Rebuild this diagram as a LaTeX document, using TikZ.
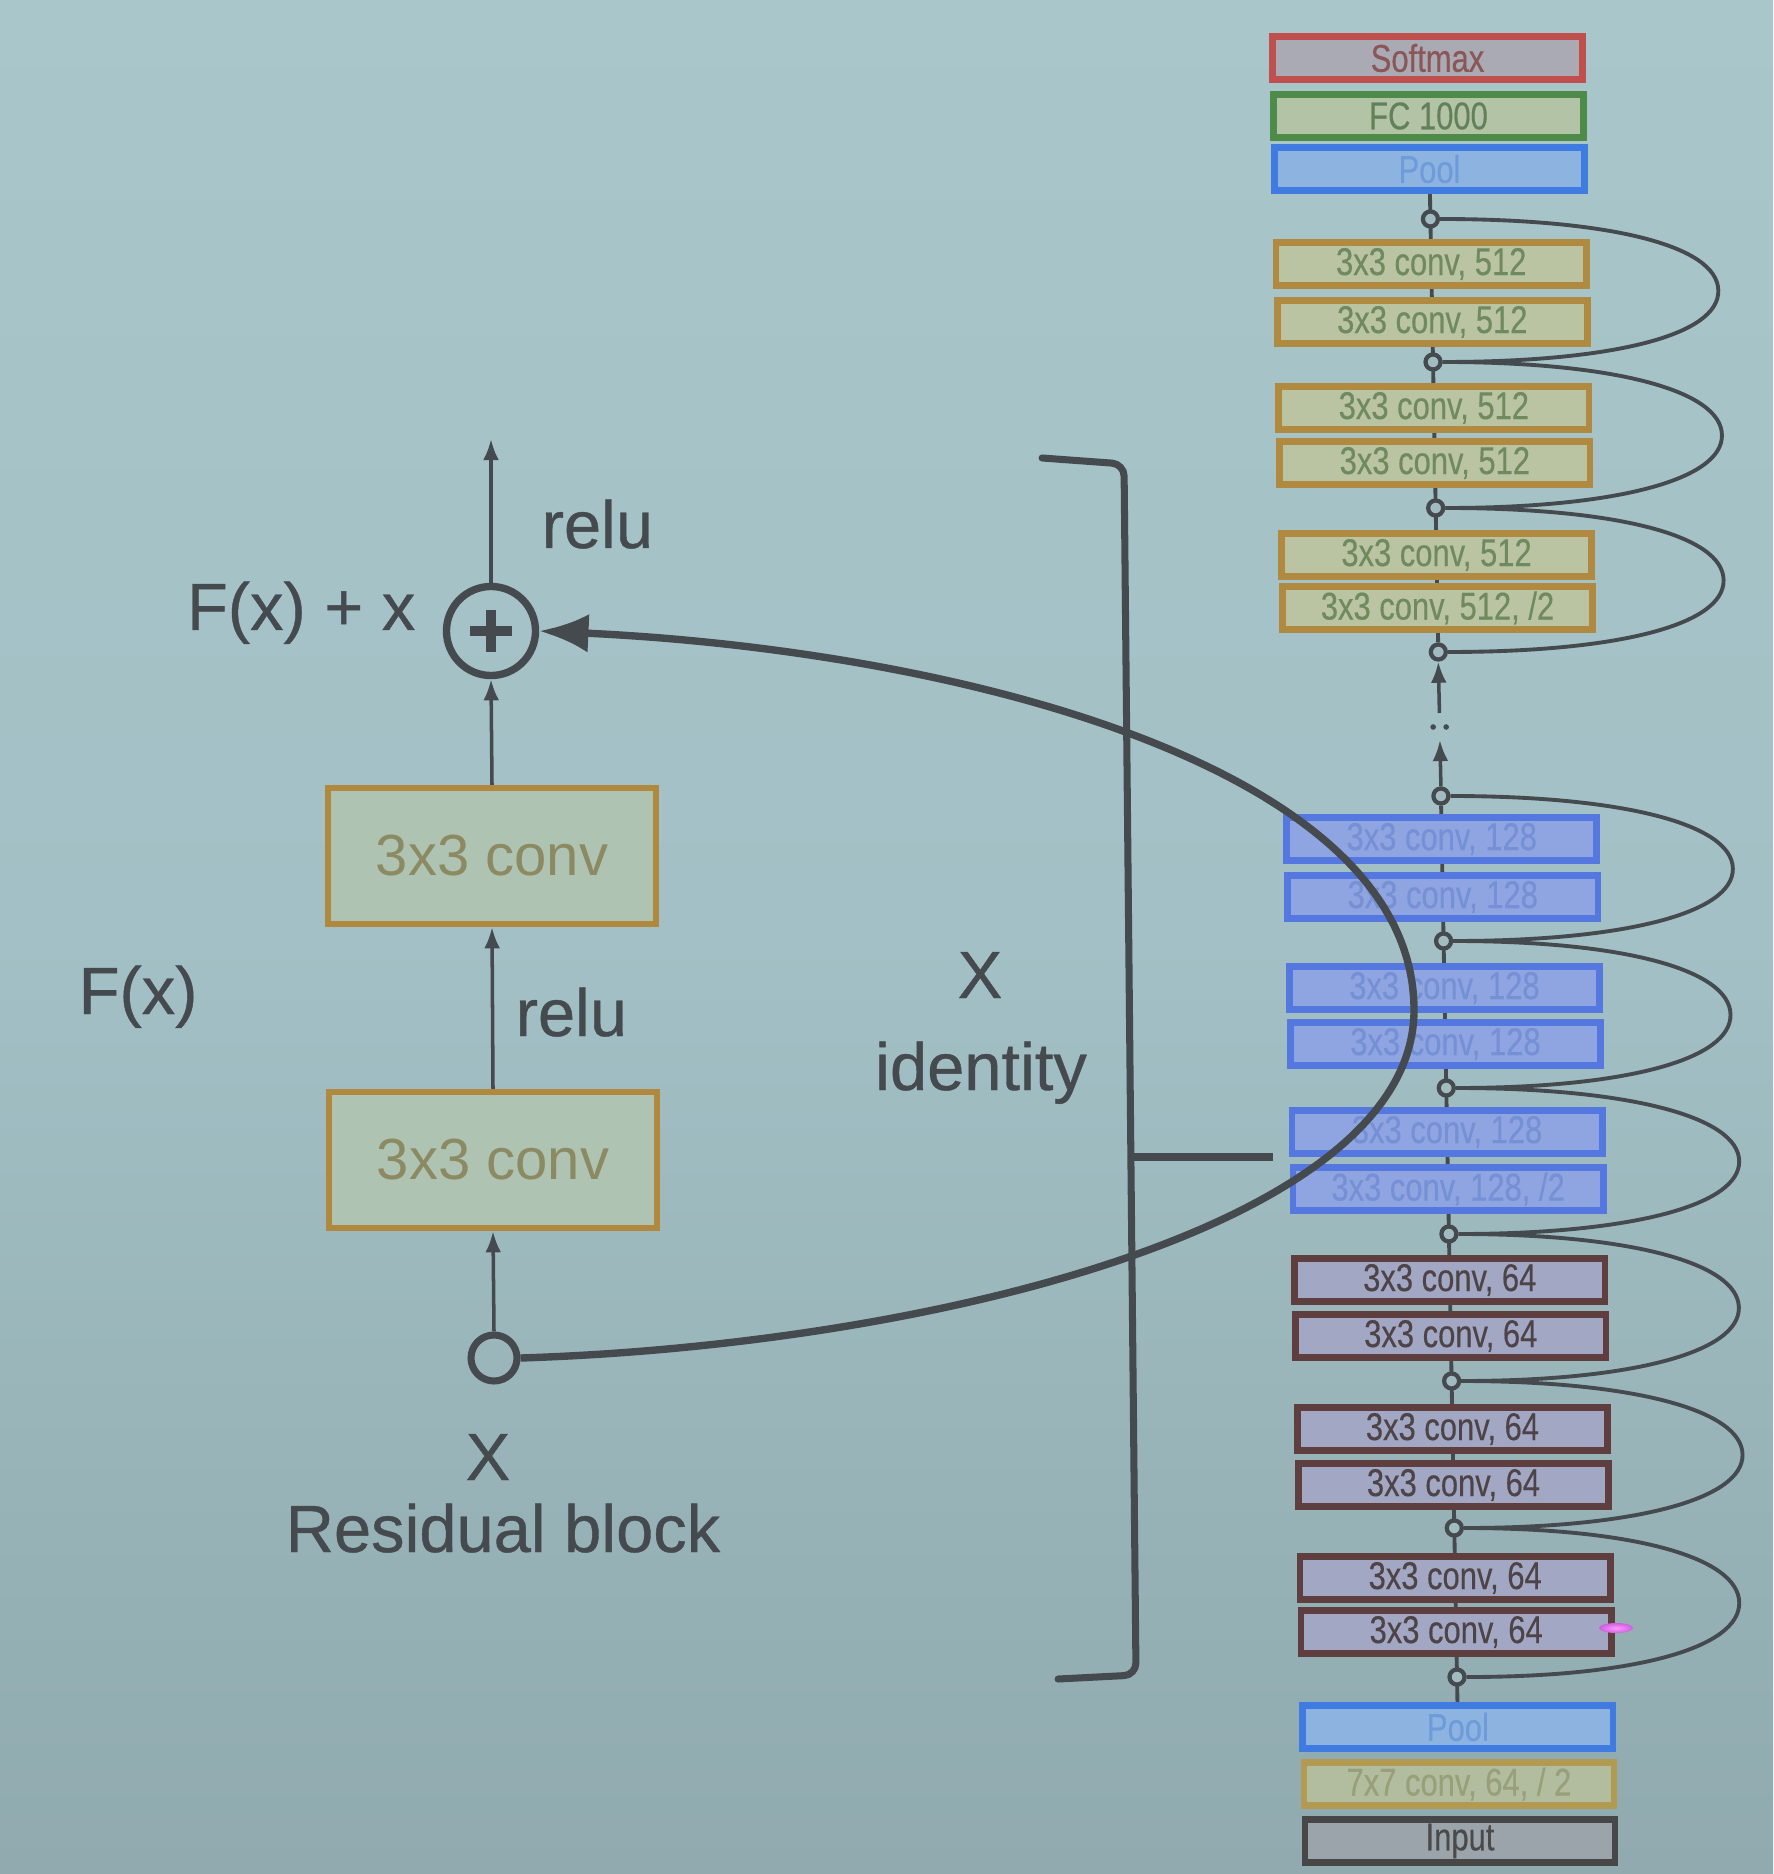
\documentclass[tikz,border=0pt]{standalone}
\usepackage{fontspec}
\setmainfont{Liberation Sans}
\newfontfamily\narrowfont[FakeStretch=0.8,FakeBold=0.4]{Liberation Sans}
\newfontfamily\labfont[FakeBold=0.6]{Liberation Sans}
\usetikzlibrary{arrows.meta}
\pgfdeclarelayer{back}
\pgfdeclarelayer{spine}
\pgfsetlayers{back,spine,main}
\definecolor{ink}{HTML}{454A4F}
\definecolor{bgtop}{HTML}{A9C6CA}
\definecolor{bgmid}{HTML}{A2C0C5}
\definecolor{bgbot}{HTML}{90AAAF}
\definecolor{jfill}{HTML}{A0BCC0}
\definecolor{lbord}{HTML}{B0883E}
\definecolor{lfill}{HTML}{AEC3B2}
\definecolor{ltext}{HTML}{8C8A62}
\definecolor{smD}{HTML}{C0504D}\definecolor{smF}{HTML}{A9AAB3}\definecolor{smT}{HTML}{8B5656}
\definecolor{fcD}{HTML}{4E8A48}\definecolor{fcF}{HTML}{B3C4A6}\definecolor{fcT}{HTML}{62805A}
\definecolor{plD}{HTML}{3F7BE0}\definecolor{plF}{HTML}{8DB4E0}\definecolor{plT}{HTML}{6E9CDB}
\definecolor{fvD}{HTML}{B08A40}\definecolor{fvF}{HTML}{BAC4A2}\definecolor{fvT}{HTML}{6F8A5E}
\definecolor{otD}{HTML}{5577E0}\definecolor{otF}{HTML}{8FA5E2}\definecolor{otT}{HTML}{7590D4}
\definecolor{sfD}{HTML}{5E3E3E}\definecolor{sfF}{HTML}{A2A8C4}\definecolor{sfT}{HTML}{4E4448}
\definecolor{svD}{HTML}{B39A52}\definecolor{svF}{HTML}{B2BC9E}\definecolor{svT}{HTML}{98A07A}
\definecolor{inD}{HTML}{474747}\definecolor{inF}{HTML}{9BA4AA}\definecolor{inT}{HTML}{4A4A4A}
\begin{document}
\begin{tikzpicture}[x=0.01cm,y=-0.01cm,
  lbl/.style={text=ink,font=\labfont\fontsize{19}{22}\selectfont,inner sep=0},
  convL/.style={draw=lbord,fill=lfill,line width=1.8pt,minimum width=3.28cm,minimum height=1.36cm,text=ltext,font=\fontsize{16.5}{20}\selectfont},
  rbox/.style={line width=1.9pt,minimum width=3.1cm,minimum height=0.43cm,inner sep=0,font=\narrowfont\fontsize{11}{11}\selectfont},
  smx/.style={rbox,draw=smD,fill=smF,text=smT},
  fcx/.style={rbox,draw=fcD,fill=fcF,text=fcT},
  plx/.style={rbox,draw=plD,fill=plF,text=plT},
  fvx/.style={rbox,draw=fvD,fill=fvF,text=fvT},
  otx/.style={rbox,draw=otD,fill=otF,text=otT},
  sfx/.style={rbox,draw=sfD,fill=sfF,text=sfT},
  svx/.style={rbox,draw=svD,fill=svF,text=svT},
  inx/.style={rbox,draw=inD,fill=inF,text=inT},
  jn/.style={circle,draw=ink,fill=jfill,line width=1.2pt,minimum size=0.15cm,inner sep=0},
  thinarrow/.style={draw=ink,line width=1pt,-{Latex[length=6pt,width=4.5pt]}},
  skiparc/.style={draw=ink,line width=1.1pt},
  heavy/.style={draw=ink,line width=2pt}]
\useasboundingbox (0,0) rectangle (1773,1874);
\begin{pgfonlayer}{back}
\shade[top color=bgtop,bottom color=bgbot,middle color=bgmid] (0,0) rectangle (1773,1874);
\end{pgfonlayer}

% ---------- residual block (left) ----------
\node[circle,draw=ink,line width=2.1pt,minimum size=0.89cm,inner sep=0] (plus) at (491,631) {};
\draw[ink,line width=3pt] (470,631) -- (512,631) (491,610) -- (491,652);
\coordinate (outtop) at (491,439);
\node[convL] (convB) at (492,856) {3x3 conv};
\node[convL] (convA) at (493,1160) {3x3 conv};
\node[circle,draw=ink,line width=2pt,minimum size=0.46cm,inner sep=0] (xin) at (494,1358) {};
\draw[thinarrow] (plus.north) -- (outtop);
\draw[thinarrow] (convB.north) -- (plus.south);
\draw[thinarrow] (convA.north) -- (convB.south);
\draw[thinarrow] (xin.north) -- (convA.south);

\node[lbl,anchor=base west] (relu1) at (541,548) {relu};
\node[lbl,anchor=base east] (fxx) at (416,630) {F(x) + x};
\node[lbl,anchor=base west] (relu2) at (515,1036) {relu};
\node[lbl,anchor=base west] (fx) at (78,1014) {F(x)};
\node[lbl,anchor=base] (xlab) at (488,1480) {X};
\node[lbl,anchor=base] (resb) at (503,1552) {Residual block};
\node[lbl,anchor=base] (xmid) at (980,998) {X};
\node[lbl,anchor=base] (ident) at (981,1090) {identity};

% ---------- bracket ----------
\coordinate (bA) at (1042,458);
\coordinate (bB) at (1124,464);
\coordinate (bC) at (1136,1675);
\coordinate (bD) at (1058,1679);
\coordinate (bM) at (1131,1157);
\coordinate (bE) at (1273,1157);
\draw[heavy,rounded corners=0.12cm,line cap=round] (bA) -- (bB) -- (bC) -- (bD);
\draw[heavy] (bM) -- (bE);

% ---------- ResNet column (right) ----------
\begin{scope}[xslant=-0.01823]
\def\C{1426.4}
\node[smx] (soft) at (\C,58) {Softmax};
\node[fcx] (fc) at (\C,116) {FC 1000};
\node[plx] (pooltop) at (\C,169) {Pool};
\node[jn] (j1) at (\C,219) {};
\node[fvx] (a1) at (\C,264) {3x3 conv, 512};
\node[fvx] (a2) at (\C,322) {3x3 conv, 512};
\node[jn] (j2) at (\C,362) {};
\node[fvx] (a3) at (\C,408) {3x3 conv, 512};
\node[fvx] (a4) at (\C,463) {3x3 conv, 512};
\node[jn] (j3) at (\C,508) {};
\node[fvx] (a5) at (\C,555) {3x3 conv, 512};
\node[fvx] (a6) at (\C,608) {3x3 conv, 512, /2};
\node[jn] (j4) at (\C,652) {};
\coordinate (t1) at (\C,713);
\coordinate (t2) at (\C,740);
\fill[ink] (\C-6.5,727) circle (0.028cm) (\C+6.5,727) circle (0.028cm);
\node[jn] (j5) at (\C,796) {};
\node[otx] (b1) at (\C,839) {3x3 conv, 128};
\node[otx] (b2) at (\C,897) {3x3 conv, 128};
\node[jn] (j6) at (\C,941) {};
\node[otx] (b3) at (\C,988) {3x3 conv, 128};
\node[otx] (b4) at (\C,1044) {3x3 conv, 128};
\node[jn] (j7) at (\C,1088) {};
\node[otx] (b5) at (\C,1132) {3x3 conv, 128};
\node[otx] (b6) at (\C,1189) {3x3 conv, 128, /2};
\node[jn] (j8) at (\C,1234) {};
\node[sfx] (d1) at (\C,1280) {3x3 conv, 64};
\node[sfx] (d2) at (\C,1336) {3x3 conv, 64};
\node[jn] (j9) at (\C,1381) {};
\node[sfx] (d3) at (\C,1429) {3x3 conv, 64};
\node[sfx] (d4) at (\C,1485) {3x3 conv, 64};
\node[jn] (j10) at (\C,1528) {};
\node[sfx] (d5) at (\C,1578) {3x3 conv, 64};
\node[sfx] (d6) at (\C,1632) {3x3 conv, 64};
\node[jn] (j11) at (\C,1677) {};
\node[plx] (poolbot) at (\C,1727) {Pool};
\node[svx] (c7) at (\C,1784) {7x7 conv, 64, / 2};
\node[inx] (inp) at (\C,1841) {Input};

\begin{pgfonlayer}{spine}
\draw[ink,line width=1.1pt] (pooltop) -- (j4);
\draw[ink,line width=1.1pt] (j5) -- (poolbot);
\end{pgfonlayer}
\draw[thinarrow] (t1) -- (j4.south);
\draw[thinarrow] (j5.north) -- (t2);

\draw[skiparc] (j1.east) .. controls +(170,0) and +(0,-45) .. (1713,290.5) .. controls +(0,45) and +(170,0) .. (j2.east);
\draw[skiparc] (j2.east) .. controls +(170,0) and +(0,-45) .. (1714,435) .. controls +(0,45) and +(170,0) .. (j3.east);
\draw[skiparc] (j3.east) .. controls +(170,0) and +(0,-45) .. (1713,580) .. controls +(0,45) and +(170,0) .. (j4.east);
\draw[skiparc] (j5.east) .. controls +(170,0) and +(0,-45) .. (1717,868.5) .. controls +(0,45) and +(170,0) .. (j6.east);
\draw[skiparc] (j6.east) .. controls +(170,0) and +(0,-45) .. (1712,1014.5) .. controls +(0,45) and +(170,0) .. (j7.east);
\draw[skiparc] (j7.east) .. controls +(170,0) and +(0,-45) .. (1718,1161) .. controls +(0,45) and +(170,0) .. (j8.east);
\draw[skiparc] (j8.east) .. controls +(170,0) and +(0,-45) .. (1715,1307.5) .. controls +(0,45) and +(170,0) .. (j9.east);
\draw[skiparc] (j9.east) .. controls +(170,0) and +(0,-45) .. (1716,1454.5) .. controls +(0,45) and +(170,0) .. (j10.east);
\draw[skiparc] (j10.east) .. controls +(170,0) and +(0,-45) .. (1710,1602.5) .. controls +(0,45) and +(170,0) .. (j11.east);
\end{scope}

% ---------- identity shortcut curve ----------
\draw[heavy,line width=2.1pt,-{Latex[length=14pt,width=11pt]}] (xin.east) .. controls (930,1345) and (1414,1225) .. (1414,1010) .. controls (1414,765) and (950,650) .. (plus.east);

% laser pointer spot
\shade[inner color=white!60!magenta,outer color=magenta!50!jfill] (1616,1628) ellipse (0.17cm and 0.05cm);
\end{tikzpicture}
\end{document}
